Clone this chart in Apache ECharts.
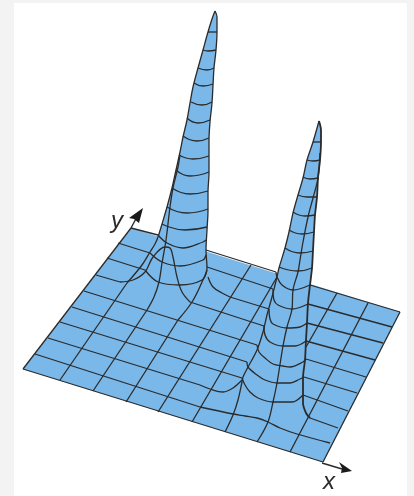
<!DOCTYPE html>
<html>
<head>
<meta charset="utf-8">
<script src="https://cdn.jsdelivr.net/npm/echarts@6/dist/echarts.min.js"></script>
<style>
html, body { margin: 0; padding: 0; background: #f3f3f3; }
#main { width: 414px; height: 496px; filter: blur(0.45px); }
</style>
</head>
<body>
<div id="main"></div>
<script>
// surface, everything is [across, down]
var basePlane = [[23,369],[131,228],[400,312],[323,462]];

// flat stretches of the mesh
var flatLines = [
    [[23,369],[131,228]],
    [[23,369],[323,462]],
    [[323,462],[400,312]],
    // left to right
    [[35,354],[200,407]],
    [[48,338],[200,385]],
    [[60,322],[242,378]],
    [[303,395],[348,411]],
    [[72,307],[247,362]],
    [[304,377],[357,393]],
    [[84,291],[257,345]],
    [[306,359],[366,377]],
    [[96,275],[120,282]],
    [[190,302],[264,326]],
    [[306,341],[375,360]],
    [[107,258],[145,270]],
    [[230,297],[269,309]],
    [[307,323],[383,343]],
    [[118,243],[150,253]],
    [[207,267],[273,289]],
    [[308,304],[392,327]],
    [[131,228],[158,235]],
    [[206,250],[276,272]],
    [[310,285],[400,312]],
    // front to back
    [[60,380],[127,283]],
    [[93,391],[147,310]],
    [[126,402],[178,320]],
    [[158,412],[251,265]],
    [[192,422],[277,277]],
    [[306,347],[337,293]],
    [[290,452],[368,303]]
];

// curved stretches, left to right
var v1 = [[200,407],[233,414],[245,416],[257,418],[268,422],[280,428],[297,434],[330,443]];
var v2 = [[200,385],[210,389],[223,392],[233,388],[242,380]];
var v3 = [[242,378],[245,385],[250,392],[258,398],[273,402],[292,402],[303,395]];
var v4 = [[247,362],[248,367],[257,375],[265,380],[277,383],[290,383],[300,379],[304,377]];
var v5 = [[257,345],[259,352],[265,358],[273,364],[283,366],[290,367],[303,362],[306,359]];
var v6a = [[120,282],[133,280],[145,272],[153,257],[165,247],[170,248],[173,257],[177,277],[182,292],[190,302]];
var v6b = [[264,326],[265,335],[270,342],[283,346],[295,346],[306,341]];
var v7a = [[145,270],[158,282],[180,285],[202,280],[207,270]];
var v7b = [[208,277],[213,287],[222,293],[230,297]];
var v7c = [[269,309],[270,319],[273,324],[287,328],[300,327],[307,323]];
var v8a = [[150,253],[162,262],[180,266],[203,260],[206,255]];
var v8b = [[273,289],[274,300],[278,305],[292,309],[308,304]];
var v9a = [[158,235],[167,243],[183,248],[203,242],[206,240]];
var v9b = [[276,272],[277,277],[282,285],[293,290],[310,285]];

// curved stretches, front to back
var u1 = [[127,283],[142,265],[150,252],[155,244],[158,237],[162,224],[167,207],[172,188],[176,170],[180,152],[183,137],[187,120],[190,103],[193,87],[198,68],[203,50],[208,32],[212,19],[215,11]];
var u2 = [[147,310],[154,297],[159,282],[162,263],[166,240],[170,207],[173,188],[178,167],[180,155]];
var u3 = [[178,320],[192,302],[202,282],[207,268],[206,250],[207,230],[208,210],[208,192],[209,173],[209,158],[209,140],[210,122],[212,103],[213,85],[214,68],[216,50],[217,32],[217,17],[215,11]];
var u6 = [[225,432],[233,415],[238,400],[242,382],[243,377],[248,367],[257,350],[263,332],[267,315],[272,297],[277,277],[279,268],[285,248],[289,232],[293,213],[298,195],[303,178],[307,160],[313,142],[319,121]];
var u7 = [[257,442],[268,422],[273,402],[277,383],[283,346],[287,327],[292,309],[293,290],[298,272],[300,260],[303,242],[308,217],[313,198],[318,178],[320,153]];
var peak2Right = [[319,121],[321,130],[321,142],[320,160],[318,178],[317,197],[315,215],[314,232],[313,250],[312,268],[310,285],[308,303],[307,323],[306,340],[305,360],[303,378],[303,403],[306,413],[310,418]];
var v2right = [[310,418],[338,428]];

// rings around the first peak, top to bottom
var ringsA = [
    [[208,32],[217,32]],
    [[203,50],[208,51],[216,50]],
    [[198,68],[207,70],[214,68]],
    [[194,83],[203,86],[213,84]],
    [[191,102],[202,105],[212,102]],
    [[187,118],[198,123],[210,120]],
    [[183,136],[197,141],[209,138]],
    [[179,155],[193,159],[209,156]],
    [[176,170],[190,176],[209,172]],
    [[172,188],[190,194],[208,191]],
    [[167,207],[187,213],[208,209]],
    [[162,224],[185,230],[207,227]]
];
// rings around the second peak
var ringsB = [
    [[313,142],[321,142]],
    [[307,160],[313,161],[320,160]],
    [[303,177],[310,179],[318,178]],
    [[298,195],[307,197],[317,197]],
    [[293,212],[305,216],[315,215]],
    [[289,230],[302,234],[314,232]],
    [[285,248],[300,253],[313,251]],
    [[279,267],[298,271],[312,268]]
];

var arrowY = [[131,228],[138,215]];
var arrowX = [[322,463],[342,469]];
var arrowHeadY = [[143,208],[129,218],[134,219],[139,223]];
var arrowHeadX = [[352,471],[339,462],[342,468],[341,473]];

var peak1Shape = u1.concat(u3.slice().reverse());
var peak2Shape = u6.concat(peak2Right, v2right);

var fillBlue = '#7ab8ea';
var inkColor = '#2b2b2b';

function polySeries(points, color, z) {
    return {
        type: 'custom',
        coordinateSystem: 'cartesian2d',
        silent: true,
        z: z,
        data: [[0, 0]],
        renderItem: function (params, api) {
            return {
                type: 'polygon',
                shape: { points: points.map(function (p) { return api.coord(p); }) },
                style: { fill: color }
            };
        }
    };
}

function lineSeries(points, width, smooth) {
    return {
        type: 'line',
        data: points,
        symbol: 'none',
        smooth: smooth,
        silent: true,
        z: 5,
        lineStyle: { color: inkColor, width: width }
    };
}

var series = [
    polySeries(basePlane, fillBlue, 1),
    polySeries(peak1Shape, fillBlue, 2),
    polySeries(peak2Shape, fillBlue, 2)
];

flatLines.concat([v2right]).forEach(function (l) {
    series.push(lineSeries(l, 1.3, false));
});
[v1, v2, v3, v4, v5, v6a, v6b, v7a, v7b, v7c, v8a, v8b, v9a, v9b, u1, u2, u3, u6, u7].forEach(function (l) {
    series.push(lineSeries(l, 1.3, 0.35));
});
series.push(lineSeries(peak2Right, 1.8, 0.3));
ringsA.concat(ringsB).forEach(function (l) {
    series.push(lineSeries(l, 1.3, 0.5));
});
series.push(lineSeries(arrowY, 1.4, false));
series.push(lineSeries(arrowX, 1.4, false));
series.push(polySeries(arrowHeadY, '#1a1a1a', 6));
series.push(polySeries(arrowHeadX, '#1a1a1a', 6));

var myChart = echarts.init(document.getElementById('main'));
myChart.setOption({
    animation: false,
    backgroundColor: '#f3f3f3',
    grid: { left: 0, right: 0, top: 0, bottom: 0 },
    xAxis: { type: 'value', min: 0, max: 414, show: false },
    yAxis: { type: 'value', min: 0, max: 496, inverse: true, show: false },
    graphic: [
        { type: 'rect', z: -1, shape: { x: 14, y: 3, width: 393, height: 493 }, style: { fill: '#ffffff' } },
        { type: 'text', z: 10, x: 117, y: 221, style: { text: 'y', font: 'italic 24px "Liberation Sans"', fill: '#2b2b2b', align: 'center', verticalAlign: 'middle' } },
        { type: 'text', z: 10, x: 329, y: 482, style: { text: 'x', font: 'italic 24px "Liberation Sans"', fill: '#2b2b2b', align: 'center', verticalAlign: 'middle' } }
    ],
    series: series
});
</script>
</body>
</html>
